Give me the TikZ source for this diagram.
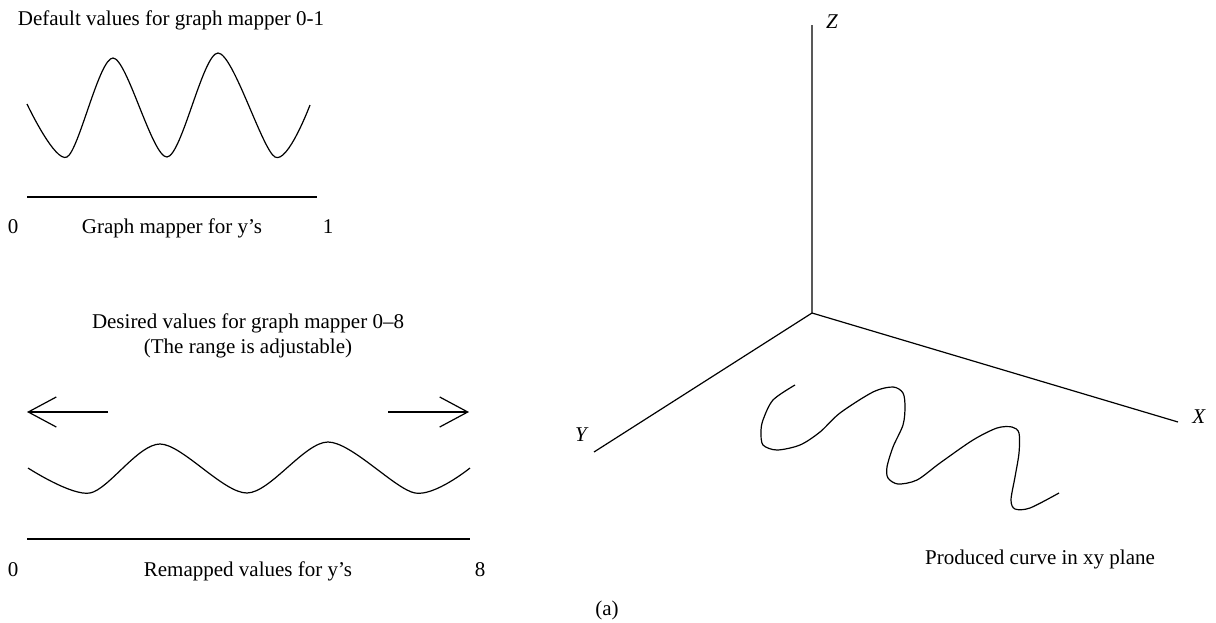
\documentclass[tikz,border=0pt]{standalone}
\usepackage{fontspec}
\setmainfont{Liberation Serif}
\usepackage{tikz}
\usetikzlibrary{calc, positioning, arrows.meta}

\begin{document}
\begin{tikzpicture}[x=0.5pt, y=-0.5pt, line width=0.6pt,
  every node/.style={font=\fontsize{10.5}{12.8}\selectfont, inner sep=0pt},
  lbl/.style={anchor=base},
  wave/.style={smooth, line join=round},
  stretch/.style={-{Straight Barb[length=14pt, width=15pt]}}]
  \useasboundingbox (0,0) rectangle (1216,622);

  \node[lbl] (deftitle) at (171,25) {Default values for graph mapper 0-1};
  \draw[wave] plot coordinates {(27,104) (67,157) (113,58) (167,157) (218,53) (275,157) (310,105)};
  \coordinate (defL) at (27,197);
  \coordinate (defR) at (317,197);
  \draw (defL) -- (defR);
  \node[lbl] (defzero) at (13,233) {0};
  \node[lbl] (defname) at (172,233) {Graph mapper for y's};
  \node[lbl] (defone) at (328,233) {1};

  \node[lbl] (destitle) at (248,328) {Desired values for graph mapper 0--8};
  \node[lbl] (desnote) at (248,353) {(The range is adjustable)};
  \coordinate (ltail) at (108,412);
  \coordinate (ltip) at (27,412);
  \coordinate (rtail) at (388,412);
  \coordinate (rtip) at (469,412);
  \draw[stretch] (ltail) -- (ltip);
  \draw[stretch] (rtail) -- (rtip);
  \draw[wave] plot coordinates {(28,468) (90,493) (160,444) (247,493) (328,442) (415,493) (470,468)};
  \coordinate (remL) at (27,539);
  \coordinate (remR) at (470,539);
  \draw (remL) -- (remR);
  \node[lbl] (remzero) at (13,576) {0};
  \node[lbl] (remname) at (248,576) {Remapped values for y's};
  \node[lbl] (remeight) at (480,576) {8};

  \coordinate (O) at (812,313);
  \coordinate (zend) at (812,25);
  \coordinate (xend) at (1178,422);
  \coordinate (yend) at (594,452);
  \draw (zend) -- (O) -- (xend);
  \draw (O) -- (yend);
  \node[lbl] (zlab) at (832,28) {\textit{Z}};
  \node[lbl] (xlab) at (1199,423) {\textit{X}};
  \node[lbl] (ylab) at (582,441) {\textit{Y}};
  \draw[wave] plot coordinates {(795,385) (773,400) (763,420) (761,432) (763,445) (777,450)
    (800,445) (820,432) (840,413) (873,392) (893,387) (903,393) (905,407) (903,425)
    (893,447) (887,467) (888,478) (898,484) (917,480) (940,463) (973,440) (997,428)
    (1012,427) (1019,433) (1019,453) (1015,477) (1011,500) (1015,509) (1030,508) (1059,493)};
  \node[lbl] (curvename) at (1040,564) {Produced curve in xy plane};

  \node[lbl] (sublabel) at (607,615) {(a)};
\end{tikzpicture}
\end{document}
